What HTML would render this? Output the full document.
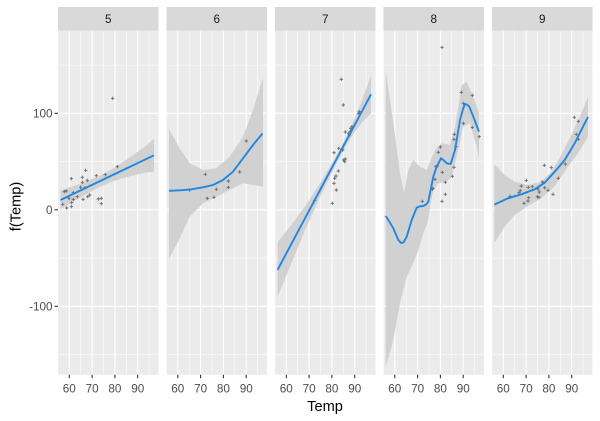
<!DOCTYPE html>
<html><head><meta charset="utf-8"><style>
html,body{margin:0;padding:0;background:#fff;}
svg{display:block;}
text{font-family:"Liberation Sans",Arial,sans-serif;}
</style></head><body>
<svg width="600" height="421" viewBox="0 0 600 421" xmlns="http://www.w3.org/2000/svg">
<defs>
<clipPath id="c0"><rect x="58" y="30.7" width="100.5" height="344"/></clipPath>
<clipPath id="c1"><rect x="166.5" y="30.7" width="100.5" height="344"/></clipPath>
<clipPath id="c2"><rect x="275" y="30.7" width="100.5" height="344"/></clipPath>
<clipPath id="c3"><rect x="383.5" y="30.7" width="100.5" height="344"/></clipPath>
<clipPath id="c4"><rect x="492" y="30.7" width="100.5" height="344"/></clipPath>
<g id="grid">
<rect x="0" y="30.7" width="100.5" height="344" fill="#EBEBEB"/>
<g stroke="#fff" stroke-width="0.55">
<line x1="-0.1" y1="30.7" x2="-0.1" y2="374.7"/>
<line x1="22.7" y1="30.7" x2="22.7" y2="374.7"/>
<line x1="45.5" y1="30.7" x2="45.5" y2="374.7"/>
<line x1="68.3" y1="30.7" x2="68.3" y2="374.7"/>
<line x1="91.1" y1="30.7" x2="91.1" y2="374.7"/>
<line x1="0" y1="354.5" x2="100.5" y2="354.5"/>
<line x1="0" y1="258.1" x2="100.5" y2="258.1"/>
<line x1="0" y1="161.6" x2="100.5" y2="161.6"/>
<line x1="0" y1="65.1" x2="100.5" y2="65.1"/>
</g>
<g stroke="#fff" stroke-width="1.1">
<line x1="11.3" y1="30.7" x2="11.3" y2="374.7"/>
<line x1="34.1" y1="30.7" x2="34.1" y2="374.7"/>
<line x1="56.9" y1="30.7" x2="56.9" y2="374.7"/>
<line x1="79.7" y1="30.7" x2="79.7" y2="374.7"/>
<line x1="0" y1="306.3" x2="100.5" y2="306.3"/>
<line x1="0" y1="209.8" x2="100.5" y2="209.8"/>
<line x1="0" y1="113.3" x2="100.5" y2="113.3"/>
</g>
<rect x="0" y="7" width="100.5" height="23.7" fill="#D9D9D9"/>
<g stroke="#333" stroke-width="1.1">
<line x1="11.3" y1="374.7" x2="11.3" y2="378.2"/>
<line x1="34.1" y1="374.7" x2="34.1" y2="378.2"/>
<line x1="56.9" y1="374.7" x2="56.9" y2="378.2"/>
<line x1="79.7" y1="374.7" x2="79.7" y2="378.2"/>
</g>
<g font-size="11.7" fill="#4D4D4D" text-anchor="middle">
<text x="11.3" y="392.5">60</text>
<text x="34.1" y="392.5">70</text>
<text x="56.9" y="392.5">80</text>
<text x="79.7" y="392.5">90</text>
</g>
</g>
<path id="pt" d="M-1.7,0H1.7M0,-1.7V1.7" stroke="#6b6b6b" stroke-width="0.9" fill="none"/>
</defs>

<use href="#grid" x="58"/>
<use href="#grid" x="166.5"/>
<use href="#grid" x="275"/>
<use href="#grid" x="383.5"/>
<use href="#grid" x="492"/>

<g font-size="11.7" fill="#1A1A1A" text-anchor="middle">
<text x="108.25" y="23.2">5</text>
<text x="216.75" y="23.2">6</text>
<text x="325.25" y="23.2">7</text>
<text x="433.75" y="23.2">8</text>
<text x="542.25" y="23.2">9</text>
</g>

<!-- y axis -->
<g stroke="#333" stroke-width="1.1">
<line x1="54.5" y1="306.3" x2="58" y2="306.3"/>
<line x1="54.5" y1="209.8" x2="58" y2="209.8"/>
<line x1="54.5" y1="113.3" x2="58" y2="113.3"/>
</g>
<g font-size="11.7" fill="#4D4D4D" text-anchor="end">
<text x="52.5" y="310.5">-100</text>
<text x="52.5" y="214">0</text>
<text x="52.5" y="117.5">100</text>
</g>
<text x="325" y="411" font-size="14.6" fill="#000" text-anchor="middle">Temp</text>
<text transform="translate(20.5,206.5) rotate(-90)" font-size="14.6" fill="#000" text-anchor="middle">f(Temp)</text>

<!-- Panel 1 -->
<g clip-path="url(#c0)">
<polygon fill="#D1D1D1" points="60.5,190.5 80,183.8 100,175.7 115,167.5 130,157.3 145,146.6 154,138.8 154,171.8 145,172.6 130,176.3 115,180.5 100,186.7 80,197.8 60.5,209.5"/>
<g>
<use href="#pt" x="112.7" y="98.3"/><use href="#pt" x="85.7" y="170.3"/><use href="#pt" x="71.3" y="178.7"/>
<use href="#pt" x="82.3" y="177.3"/><use href="#pt" x="87.3" y="180.3"/><use href="#pt" x="96.3" y="175.7"/>
<use href="#pt" x="105.3" y="174.7"/><use href="#pt" x="117.3" y="166.7"/><use href="#pt" x="64.3" y="191.7"/>
<use href="#pt" x="66.3" y="191"/><use href="#pt" x="82.3" y="182.3"/><use href="#pt" x="80.7" y="187.3"/>
<use href="#pt" x="85" y="187.7"/><use href="#pt" x="73.3" y="192.7"/><use href="#pt" x="77.3" y="196.7"/>
<use href="#pt" x="83" y="199.3"/><use href="#pt" x="87.7" y="196.7"/><use href="#pt" x="89.7" y="195"/>
<use href="#pt" x="69" y="198.3"/><use href="#pt" x="73.3" y="199.3"/><use href="#pt" x="71.7" y="202.7"/>
<use href="#pt" x="62.7" y="204.3"/><use href="#pt" x="66.7" y="208"/><use href="#pt" x="71.3" y="206.7"/>
<use href="#pt" x="98.3" y="199"/><use href="#pt" x="101.3" y="198.3"/><use href="#pt" x="101.3" y="203.7"/>
</g>
<polyline fill="none" stroke="#1E88E5" stroke-width="1.9" points="60.5,200 154,155.3"/>
</g>

<!-- Panel 2 -->
<g clip-path="url(#c1)">
<polygon fill="#D1D1D1" points="169,129 179.7,148.3 189.7,163.3 203,170 216.3,168.3 229.7,156.7 243,136.7 253,110 263,78 263,186.7 253,185 243,183.3 229.7,190 216.3,196.7 203,203.3 189.7,216.7 179.7,238.3 169,259"/>
<g>
<use href="#pt" x="246.3" y="141"/><use href="#pt" x="205.3" y="174.3"/><use href="#pt" x="239.7" y="172"/>
<use href="#pt" x="228.3" y="181"/><use href="#pt" x="228.3" y="187.3"/><use href="#pt" x="216.3" y="189.3"/>
<use href="#pt" x="189.7" y="190"/><use href="#pt" x="207.3" y="198.3"/><use href="#pt" x="214" y="197.3"/>
</g>
<polyline fill="none" stroke="#1E88E5" stroke-width="1.9" stroke-linejoin="round" points="169,190.8 180,190.3 190,189.5 203,187.3 213,185 223,180 233,171.7 243,158.3 253,145 262.5,133.5"/>
</g>

<!-- Panel 3 -->
<g clip-path="url(#c2)">
<polygon fill="#D1D1D1" points="277.5,242 290,226.6 305,206.4 320,183.2 335,158 345,139.2 355,117.4 363,97.4 371,75.3 371,113.3 363,121.4 355,131.4 345,147.2 335,166 320,197.2 305,230.4 290,266.6 277.5,297"/>
<g>
<use href="#pt" x="341.3" y="79.3"/><use href="#pt" x="343.3" y="105"/><use href="#pt" x="345.3" y="132"/>
<use href="#pt" x="348.7" y="133.3"/><use href="#pt" x="350.3" y="131.7"/><use href="#pt" x="349.3" y="135"/>
<use href="#pt" x="350.7" y="128.3"/><use href="#pt" x="359.3" y="111.7"/><use href="#pt" x="338.7" y="148.3"/>
<use href="#pt" x="342" y="149.3"/><use href="#pt" x="342.7" y="150"/><use href="#pt" x="334" y="152.7"/>
<use href="#pt" x="343.7" y="160"/><use href="#pt" x="345.3" y="159"/><use href="#pt" x="344.7" y="161.7"/>
<use href="#pt" x="338.3" y="171"/><use href="#pt" x="336" y="176"/><use href="#pt" x="334.7" y="178.3"/>
<use href="#pt" x="334" y="183.3"/><use href="#pt" x="336.3" y="190"/><use href="#pt" x="332.3" y="203.3"/>
<use href="#pt" x="314.7" y="200.3"/><use href="#pt" x="358.7" y="113.3"/><use href="#pt" x="352" y="126.7"/>
</g>
<polyline fill="none" stroke="#1E88E5" stroke-width="1.9" points="277.5,270 371,94.3"/>
</g>

<!-- Panel 4 -->
<g clip-path="url(#c3)">
<polygon fill="#D1D1D1" points="385.7,70 393.3,123.3 400,173.3 404,193.3 408.3,170 413.3,160 420,166.7 426.7,170 435,150 441.7,143.3 450,145 455,126.7 461.7,85 466.7,81.7 473.3,96.7 479,113.3 479,158.3 476.7,146.7 470,123.3 463.3,126.7 456.7,156.7 451.7,176.7 446.7,181.7 438.3,183.3 433.3,190 430,206.7 428.3,220 423.3,233.3 418.3,250 413.3,263.3 406.7,276.7 400,303.3 393.3,340 387.3,361.7 385.7,368"/>
<g>
<use href="#pt" x="442" y="47.3"/><use href="#pt" x="461.3" y="92.3"/><use href="#pt" x="472.3" y="95.3"/>
<use href="#pt" x="463.3" y="103.3"/><use href="#pt" x="463.3" y="123.3"/><use href="#pt" x="472.3" y="127.3"/>
<use href="#pt" x="479.3" y="136.7"/><use href="#pt" x="454.3" y="134.3"/><use href="#pt" x="454" y="139.3"/>
<use href="#pt" x="456" y="146.7"/><use href="#pt" x="440.3" y="147"/><use href="#pt" x="438.3" y="152.3"/>
<use href="#pt" x="435.7" y="166.7"/><use href="#pt" x="437.3" y="166"/><use href="#pt" x="454" y="167.3"/>
<use href="#pt" x="442.3" y="172.3"/><use href="#pt" x="452.3" y="176.3"/><use href="#pt" x="435" y="179.3"/>
<use href="#pt" x="445.3" y="182.3"/><use href="#pt" x="433" y="188.3"/><use href="#pt" x="432.3" y="189.3"/>
<use href="#pt" x="445.3" y="194.3"/><use href="#pt" x="422.3" y="201.3"/><use href="#pt" x="442" y="201.3"/>
</g>
<polyline fill="none" stroke="#1E88E5" stroke-width="1.9" stroke-linejoin="round" points="385.7,216 389,221 393.3,228.3 398.3,240 401,242.8 403.3,242.7 406.7,236.7 411.7,220 416.7,207.7 420,206.3 423.3,206 426,204.5 428.3,201.7 433.3,176.7 436.7,166.7 441,158.3 444,160.5 446.7,163.3 450.7,164 455,150 460,120 463,109 465,104 467,104.5 469.3,106.7 473.3,116.7 479,131.7"/>
</g>

<!-- Panel 5 -->
<g clip-path="url(#c4)">
<polygon fill="#D1D1D1" points="494.3,164 504.7,175 514.7,181.7 528,185 541.3,181.7 551.3,171.7 561.3,155 571.3,135 581.3,113.3 588,97 588,136.7 578,153.3 568,166.7 554.7,186 541.3,198.3 528,206 514.7,215 504.7,226.7 494.3,243"/>
<g>
<use href="#pt" x="574.3" y="117.3"/><use href="#pt" x="578.3" y="121.3"/><use href="#pt" x="576.3" y="134.3"/>
<use href="#pt" x="578.3" y="139.3"/><use href="#pt" x="565.3" y="164"/><use href="#pt" x="544.3" y="165.3"/>
<use href="#pt" x="551.3" y="167.7"/><use href="#pt" x="558.3" y="178.3"/><use href="#pt" x="526.3" y="180.3"/>
<use href="#pt" x="542.3" y="182"/><use href="#pt" x="521.3" y="186"/><use href="#pt" x="520.3" y="190.7"/>
<use href="#pt" x="528.3" y="187.3"/><use href="#pt" x="532.3" y="186.7"/><use href="#pt" x="538" y="189"/>
<use href="#pt" x="544.7" y="187.7"/><use href="#pt" x="548" y="190.3"/><use href="#pt" x="539.3" y="192"/>
<use href="#pt" x="539" y="197.3"/><use href="#pt" x="553" y="194.3"/><use href="#pt" x="510" y="196.3"/>
<use href="#pt" x="519" y="192.7"/><use href="#pt" x="528.7" y="197.7"/><use href="#pt" x="537.3" y="196.7"/>
<use href="#pt" x="528" y="201"/><use href="#pt" x="524" y="203.3"/>
</g>
<polyline fill="none" stroke="#1E88E5" stroke-width="1.9" stroke-linejoin="round" points="494.3,204.6 508,198.3 521.3,194.3 534.7,189.3 544.7,182.7 554.7,171.7 564.7,160 574.7,143.3 581.3,130 588,117"/>
</g>
</svg>
</body></html>
